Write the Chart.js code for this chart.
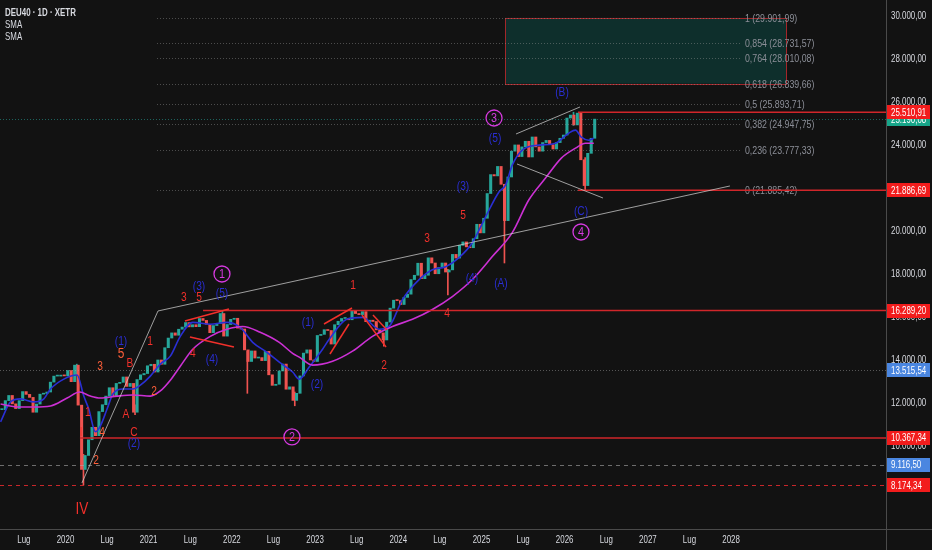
<!DOCTYPE html>
<html>
<head>
<meta charset="utf-8">
<script src="https://cdn.jsdelivr.net/npm/chart.js@4.4.1/dist/chart.umd.min.js"></script>
<style>
  html, body { margin: 0; padding: 0; background: #121212; }
  #wrap { width: 932px; height: 550px; position: relative; }
</style>
</head>
<body>
<div id="wrap"><canvas id="chart"></canvas></div>
<script>
// closes, two per month (1st and 16th), starting 1 Apr 2019
const closeStart = 2019.25;
const closes = [
  11680, 12100, 12340, 11950, 11730, 12100, 12520, 12390, 12250, 11560, 11940, 12400, 12430, 12500, 12960, 13240, 13240, 13280,
  13250, 13500, 12980, 13750, 11890, 8900, 9550, 10280, 10860, 10470, 11590, 11910, 12310, 12700, 12310, 12900, 12950, 13200, 12760, 12900, 11560, 13080, 13300, 13360,
  13720, 13790, 13430, 13990, 13790, 14560, 15010, 15250, 15140, 15420, 15520, 15730, 15530, 15630, 15540, 15920, 15830, 15650, 15260, 15590, 15690, 16150, 15100, 15640,
  15880, 15930, 15470, 15430, 14460, 13920, 14410, 14080, 14100, 13960, 14390, 13300, 12810, 12860, 13480, 13800, 12630, 12740, 12110, 12440, 13250, 14310, 14460, 13990,
  13920, 15130, 15180, 15400, 15360, 14730, 15630, 15790, 15920, 15920, 15860, 16290, 16150, 16100, 16240, 15770, 15840, 15780, 15390, 15250, 14920, 15750, 16400, 16770,
  16750, 16570, 16900, 17050, 17730, 17930, 18490, 17770, 17930, 18740, 18500, 18000, 18290, 18500, 18080, 18180, 18900, 18730, 19320, 19480, 19250, 19210, 19630, 20300,
  19900, 20580, 21730, 22610, 22550, 22990, 22160, 20470, 22500, 23700, 23990, 23450, 23900, 24160, 23430, 24360, 23900, 23700, 24100, 24200, 24000, 23800, 24100, 24300,
  24450, 25240, 25380, 24920, 25470, 23300, 22100, 23600, 24300, 25190
];
const closeDates = closes.map((_, i) => closeStart + i / 24);

// the long wicks that stand out
const spikeDates = [2020.13, 2020.21, 2020.83, 2021.88, 2022.18, 2022.75, 2023.82, 2024.59, 2025.27, 2026.10, 2026.24];
const spikeLows = [13300, 8174, 11450, 15700, 12440, 11860, 14630, 17020, 18500, 24900, 21887];
const spikeHighs = [13795, 9600, 11900, 16290, 14400, 12500, 15100, 18200, 21000, 25511, 23400];

// short SMA (blue) and long SMA (magenta)
const fastDates = [2019.22, 2019.34, 2019.46, 2019.62, 2019.74, 2019.82, 2019.98, 2020.14, 2020.22, 2020.28, 2020.36, 2020.42, 2020.50, 2020.57, 2020.69, 2020.81, 2020.90,
  2021.02, 2021.14, 2021.26, 2021.38, 2021.53, 2021.74, 2021.94, 2022.10, 2022.25, 2022.42, 2022.57, 2022.73, 2022.81, 2022.93, 2023.09, 2023.17, 2023.38, 2023.57,
  2023.77, 2023.89, 2024.05, 2024.25, 2024.41, 2024.57, 2024.73, 2024.89, 2025.05, 2025.21, 2025.29, 2025.37, 2025.49, 2025.69, 2025.89, 2026.05, 2026.13, 2026.20, 2026.29, 2026.35];
const fastValues = [11110, 12040, 12180, 12040, 12180, 12640, 13100, 13290, 12310, 11710, 10650, 10930, 11710, 12410, 12640, 12640, 12820,
  13240, 13800, 14170, 15090, 15740, 15650, 15740, 15510, 14810, 14350, 13890, 13430, 13100, 13660, 14490, 14950, 15880, 15970,
  15420, 15550, 16800, 17730, 18190, 18330, 18750, 19440, 20650, 21800, 22130, 23050, 23750, 23980, 24070, 24540, 24680, 24350, 24210, 24300];

const slowDates = [2019.22, 2019.43, 2019.62, 2019.82, 2020.02, 2020.17, 2020.30, 2020.42, 2020.62, 2020.81, 2021.02, 2021.14, 2021.26, 2021.38, 2021.53, 2021.74,
  2021.94, 2022.13, 2022.34, 2022.57, 2022.73, 2022.81, 2022.97, 2023.21, 2023.45, 2023.69, 2023.93, 2024.17, 2024.41, 2024.65, 2024.89, 2025.13, 2025.37, 2025.57,
  2025.77, 2025.96, 2026.13, 2026.25, 2026.35];
const slowValues = [11940, 11800, 11800, 11850, 12220, 12500, 12310, 12220, 12310, 12360, 12310, 12550, 13050, 13700, 14490, 15090,
  15420, 15550, 15280, 14810, 14300, 14120, 13750, 13930, 14400, 15090, 15550, 15880, 16340, 16940, 17730, 18800, 19910, 21440,
  22450, 23380, 23840, 24070, 24070];

// axes
const xTickYears = [2019.5, 2020, 2020.5, 2021, 2021.5, 2022, 2022.5, 2023, 2023.5, 2024, 2024.5, 2025, 2025.5, 2026, 2026.5, 2027, 2027.5, 2028];
const priceTicks = [10000, 12000, 14000, 16000, 18000, 20000, 22000, 24000, 26000, 28000, 30000];

// fibonacci levels
const fibRatios = ['1', '0,854', '0,764', '0,618', '0,5', '0,382', '0,236', '0'];
const fibPrices = [29901.99, 28731.57, 28010.08, 26839.66, 25893.71, 24947.75, 23777.33, 21885.42];

// price tags on the right scale
const tagPrices = [25190.08, 25510.91, 21886.69, 16289.20, 13515.54, 10367.34, 9116.50, 8174.34];
const tagKinds = ['last', 'red', 'red', 'red', 'blue', 'red', 'blue', 'red'];

// wave labels: text, date, price, colour, size
const waveLabels = [
  ['IV', 2020.198, 7015, 'red', 16], ['I', 2020.186, 10642, 'red', 13], ['1', 2020.27, 11526, 'red', 12],
  ['2', 2020.367, 9294, 'orange', 12], ['4', 2020.439, 10596, 'orange', 12], ['3', 2020.415, 13665, 'orange', 12],
  ['5', 2020.667, 14269, 'orange', 14], ['B', 2020.775, 13804, 'red', 12], ['A', 2020.727, 11433, 'red', 12],
  ['C', 2020.823, 10596, 'red', 12], ['1', 2021.016, 14827, 'red', 12], ['2', 2021.064, 12502, 'orange', 12],
  ['3', 2021.424, 16873, 'red', 12], ['5', 2021.605, 16873, 'red', 12], ['4', 2021.532, 14269, 'red', 12],
  ['1', 2023.456, 17431, 'red', 12], ['2', 2023.828, 13711, 'red', 12], ['3', 2024.345, 19617, 'red', 12],
  ['5', 2024.778, 20686, 'red', 12], ['4', 2024.586, 16129, 'red', 12],
  ['(2)', 2020.823, 10084, 'blue', 12], ['(1)', 2020.667, 14827, 'blue', 12], ['(3)', 2021.605, 17385, 'blue', 12],
  ['(5)', 2021.881, 17059, 'blue', 12], ['(4)', 2021.761, 13990, 'blue', 12], ['(1)', 2022.915, 15710, 'blue', 12],
  ['(2)', 2023.023, 12828, 'blue', 12], ['(4)', 2024.885, 17757, 'blue', 12], ['(A)', 2025.234, 17524, 'blue', 12],
  ['(3)', 2024.778, 22035, 'blue', 12], ['(5)', 2025.163, 24267, 'blue', 12], ['(B)', 2025.968, 26406, 'blue', 12],
  ['(C)', 2026.196, 20872, 'blue', 12]
];
const circleLabels = [['1', 2021.881, 17989], ['2', 2022.722, 10410], ['3', 2025.151, 25243], ['4', 2026.196, 19942]];

// drawn lines: date1, price1, date2, price2
const greyLines = [
  [2020.198, 8271, 2021.112, 16269], [2021.112, 16269, 2027.986, 22081],
  [2025.415, 24499, 2026.184, 25755], [2025.427, 23104, 2026.46, 21523]
];
const redLines = [
  [2021.436, 15804, 2021.965, 16362], [2021.496, 15059, 2022.025, 14594],
  [2023.107, 15664, 2023.444, 16408], [2023.179, 14269, 2023.407, 15664],
  [2023.564, 16083, 2023.853, 14594], [2023.696, 16083, 2023.865, 15385]
];
// horizontal red levels and where they start
const levelPrices = [25510.91, 21886.69, 16289.20, 10367.34];
const levelStarts = [2026.16, 2026.16, 2021.653, 2020.174];

const FONT = '"Liberation Sans", Arial, sans-serif';
const COLORS = { red: '#f2302b', orange: '#ff5f3a', blue: '#2a2ed2', magenta: '#d63ae0' };
const UP = '#26a69a', DOWN = '#ef5350';

const fmt = v => {
  const [i, d] = v.toFixed(2).split('.');
  return i.replace(/\B(?=(\d{3})+(?!\d))/g, '.') + ',' + d;
};

// screenshot text is narrow, so squeeze it horizontally
function text(ctx, str, x, y, align, squeeze) {
  ctx.save();
  ctx.translate(x, y);
  ctx.scale(squeeze, 1);
  ctx.textAlign = align;
  ctx.fillText(str, 0, 0);
  ctx.restore();
}

Chart.defaults.font.family = FONT;

const drawings = {
  id: 'drawings',
  beforeDraw(chart) {
    const { ctx, width, height } = chart;
    ctx.save();
    ctx.fillStyle = '#121212';
    ctx.fillRect(0, 0, width, height);
    ctx.restore();
  },
  afterDatasetsDraw(chart) {
    const { ctx, chartArea: a, scales: { x, y } } = chart;
    const X = v => x.getPixelForValue(v), Y = v => y.getPixelForValue(v);
    const seg = (x1, y1, x2, y2, color, w, dash) => {
      ctx.beginPath();
      ctx.setLineDash(dash || []);
      ctx.strokeStyle = color;
      ctx.lineWidth = w;
      ctx.moveTo(x1, y1);
      ctx.lineTo(x2, y2);
      ctx.stroke();
    };
    ctx.save();
    ctx.beginPath();
    ctx.rect(a.left, a.top, a.right - a.left, a.bottom - a.top);
    ctx.clip();

    // target box
    const bx1 = X(2025.282), bx2 = X(2028.66), by1 = Y(fibPrices[0]), by2 = Y(fibPrices[3]);
    ctx.fillStyle = 'rgba(0,150,136,0.22)';
    ctx.fillRect(bx1, by1, bx2 - bx1, by2 - by1);
    ctx.strokeStyle = '#a3262a';
    ctx.lineWidth = 1;
    ctx.setLineDash([]);
    ctx.strokeRect(Math.round(bx1) + 0.5, Math.round(by1) + 0.5, Math.round(bx2 - bx1), Math.round(by2 - by1));

    // fib levels
    ctx.font = '11px ' + FONT;
    ctx.textBaseline = 'middle';
    fibPrices.forEach((p, i) => {
      const py = Math.round(Y(p)) + 0.5;
      seg(X(2021.10), py, X(2028.12), py, 'rgba(150,150,150,0.45)', 1, [1, 2]);
      ctx.fillStyle = '#8c8f98';
      text(ctx, fibRatios[i] + ' (' + fmt(p) + ')', X(2028.166), py, 'left', 0.8);
    });

    // full-width levels
    const last = Math.round(Y(tagPrices[0])) + 0.5;
    seg(a.left, last, a.right, last, 'rgba(38,166,154,0.55)', 1, [1, 2]);
    const p135 = Math.round(Y(13515.54)) + 0.5;
    seg(a.left, p135, a.right, p135, 'rgba(170,170,170,0.45)', 1, [1, 2]);
    const p91 = Math.round(Y(9116.50)) + 0.5;
    seg(a.left, p91, a.right, p91, 'rgba(170,170,170,0.6)', 1, [4, 4]);
    const p81 = Math.round(Y(8174.34)) + 0.5;
    seg(a.left, p81, a.right, p81, '#c8262a', 1, [4, 4]);

    levelPrices.forEach((p, i) => {
      const py = Y(p);
      seg(X(levelStarts[i]), py, a.right, py, '#d0262a', 1.5);
    });

    greyLines.forEach(l => seg(X(l[0]), Y(l[1]), X(l[2]), Y(l[3]), 'rgba(205,205,205,0.75)', 1));
    redLines.forEach(l => seg(X(l[0]), Y(l[1]), X(l[2]), Y(l[3]), '#f2302b', 1.5));

    // wave labels
    ctx.setLineDash([]);
    waveLabels.forEach(([t, d, p, c, s]) => {
      ctx.font = s + 'px ' + FONT;
      ctx.fillStyle = COLORS[c];
      text(ctx, t, X(d), Y(p), 'center', 0.85);
    });
    circleLabels.forEach(([t, d, p]) => {
      const cx = X(d), cy = Y(p);
      ctx.beginPath();
      ctx.arc(cx, cy, 8, 0, Math.PI * 2);
      ctx.strokeStyle = COLORS.magenta;
      ctx.lineWidth = 1.3;
      ctx.stroke();
      ctx.font = '12px ' + FONT;
      ctx.fillStyle = COLORS.magenta;
      text(ctx, t, cx, cy + 0.5, 'center', 0.9);
    });
    ctx.restore();
  },
  afterDraw(chart) {
    const { ctx, chartArea: a, scales: { x, y }, width, height } = chart;
    ctx.save();
    ctx.textBaseline = 'middle';

    // axis labels, placed by the scales
    ctx.fillStyle = '#d8dae0';
    ctx.font = '11px ' + FONT;
    y.ticks.forEach(t => text(ctx, fmt(t.value), a.right + 5, y.getPixelForValue(t.value), 'left', 0.72));
    x.ticks.forEach(t => {
      const lbl = Number.isInteger(t.value) ? String(t.value) : 'Lug';
      text(ctx, lbl, x.getPixelForValue(t.value), a.bottom + 11, 'center', 0.72);
    });

    // pane separators
    ctx.strokeStyle = '#4a4a4a';
    ctx.lineWidth = 1;
    ctx.beginPath();
    ctx.moveTo(Math.round(a.right) + 0.5, 0);
    ctx.lineTo(Math.round(a.right) + 0.5, height);
    ctx.moveTo(0, Math.round(a.bottom) + 0.5);
    ctx.lineTo(width, Math.round(a.bottom) + 0.5);
    ctx.stroke();

    // price tags
    const tagColor = { last: '#17a589', red: '#f21c1c', blue: '#4a86e0' };
    tagPrices.forEach((p, i) => {
      const py = y.getPixelForValue(p);
      ctx.fillStyle = tagColor[tagKinds[i]];
      ctx.fillRect(a.right + 1, Math.round(py - 7), 43, 14);
      ctx.fillStyle = '#ffffff';
      text(ctx, fmt(p), a.right + 5, py + 0.5, 'left', 0.72);
    });

    // legend
    ctx.fillStyle = '#d8dae0';
    ctx.font = 'bold 11px ' + FONT;
    text(ctx, 'DEU40 · 1D · XETR', 5, 13, 'left', 0.72);
    ctx.font = '11px ' + FONT;
    text(ctx, 'SMA', 5, 25, 'left', 0.72);
    text(ctx, 'SMA', 5, 37, 'left', 0.72);
    ctx.restore();
  }
};

const candles = closes.map((c, i) => ({ x: closeDates[i], y: [i ? closes[i - 1] : c, c] }));
const spikes = spikeDates.map((d, i) => ({ x: d, y: [spikeLows[i], spikeHighs[i]] }));

new Chart(document.getElementById('chart'), {
  type: 'bar',
  data: {
    datasets: [
      {
        type: 'bar',
        data: spikes,
        barThickness: 1,
        backgroundColor: ctx => ctx.dataIndex === 0 || ctx.dataIndex === 3 || ctx.dataIndex === 9 ? UP : DOWN,
        order: 4
      },
      {
        type: 'bar',
        data: candles,
        barThickness: 2.4,
        minBarLength: 1,
        backgroundColor: ctx => {
          const i = ctx.dataIndex;
          return closes[i] >= (i ? closes[i - 1] : closes[i]) ? UP : DOWN;
        },
        order: 3
      },
      {
        type: 'line',
        data: fastDates.map((d, i) => ({ x: d, y: fastValues[i] })),
        borderColor: '#2a2fd4',
        borderWidth: 1.6,
        pointRadius: 0,
        cubicInterpolationMode: 'monotone',
        order: 2
      },
      {
        type: 'line',
        data: slowDates.map((d, i) => ({ x: d, y: slowValues[i] })),
        borderColor: '#cc30d4',
        borderWidth: 1.6,
        pointRadius: 0,
        cubicInterpolationMode: 'monotone',
        order: 1
      }
    ]
  },
  options: {
    responsive: true,
    maintainAspectRatio: false,
    animation: false,
    layout: { padding: 0 },
    plugins: { legend: { display: false }, tooltip: { enabled: false } },
    scales: {
      x: {
        type: 'linear',
        offset: false,
        min: 2019.213,
        max: 2029.862,
        grid: { display: false, drawTicks: false },
        border: { display: false },
        afterBuildTicks: s => { s.ticks = xTickYears.map(v => ({ value: v })); },
        afterFit: s => { s.height = 21; },
        ticks: { display: false }
      },
      y: {
        type: 'linear',
        position: 'right',
        min: 6130,
        max: 30730,
        grid: { display: false, drawTicks: false },
        border: { display: false },
        afterBuildTicks: s => { s.ticks = priceTicks.map(v => ({ value: v })); },
        afterFit: s => { s.width = 46; },
        ticks: { display: false }
      }
    }
  },
  plugins: [drawings]
});
</script>
</body>
</html>
